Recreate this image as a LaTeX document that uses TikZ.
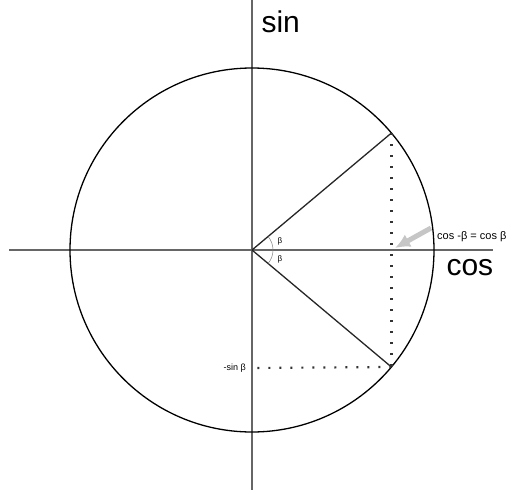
\documentclass[tikz,border=0pt]{standalone}
\usepackage{fontspec}
\setmainfont{Liberation Sans}
\usetikzlibrary{arrows.meta,calc}

\begin{document}
\begin{tikzpicture}[x=1pt, y=-1pt,
  axis/.style={draw=gray!80!black, line width=1.6pt},
  radius line/.style={draw=black!85, line width=1.3pt},
  guide/.style={draw=black!80, line width=2.2pt, dash pattern=on 2pt off 9pt},
  big/.style={font=\fontsize{30}{30}\selectfont},
  small/.style={font=\fontsize{9}{9}\selectfont, inner sep=1pt}]
  \useasboundingbox (0,0) rectangle (515,490);
  % centre and the two points on the circle
  \coordinate (O) at (252,250);
  \coordinate (P) at ($(O)+(-40:182)$);
  \coordinate (Q) at ($(O)+(40:182)$);
  \coordinate (xl) at (9,250);
  \coordinate (xr) at (493,250);
  \coordinate (yt) at (252,0);
  \coordinate (yb) at (252,490);
  % axes
  \draw[axis] (xl) -- (xr);
  \draw[axis] (yt) -- (yb);
  \node[big, anchor=west] (sinlbl) at (258,22) {sin};
  \node[big, anchor=west] (coslbl) at (443,268) {cos};
  % unit circle
  \draw[black, line width=1.3pt] (O) circle (182);
  % radii
  \draw[radius line] (O) -- (P);
  \draw[radius line] (O) -- (Q);
  % projections
  \draw[guide] (P) -- (P |- Q);
  \node[small, anchor=east] (msin) at (247,368) {-sin β};
  \draw[guide] (Q) -- (msin.east -| O);
  % angle marks
  \draw[gray, line width=0.5pt] ($(O)+(-40:21)$) arc (-40:40:21);
  \node[small, font=\fontsize{8}{8}\selectfont] (b1) at (280,241) {β};
  \node[small, font=\fontsize{8}{8}\selectfont] (b2) at (280,259) {β};
  % cos note
  \node[small, font=\fontsize{11}{11}\selectfont, anchor=west] (note) at (436,237) {cos -β = cos β};
  \coordinate (tail) at (431,228);
  \coordinate (tip) at (395,248);
  \draw[gray!45, line width=5pt, -{Latex[length=15pt, width=14pt]}]
    (tail) -- (tip);
\end{tikzpicture}
\end{document}
